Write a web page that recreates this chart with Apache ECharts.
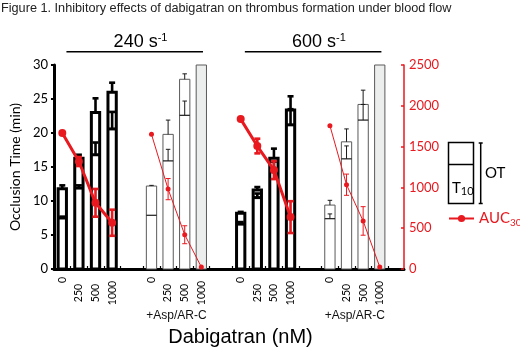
<!DOCTYPE html>
<html><head><meta charset="utf-8">
<script src="https://cdn.jsdelivr.net/npm/echarts@6/dist/echarts.min.js"></script>
<style>html,body{margin:0;padding:0;background:#fff}#c{width:520px;height:352px}</style>
</head><body><div id="c"></div>
<script>
// ---- data ----
const doses = ['0', '250', '500', '1000'];
const shearRates = ['240', '600'];
const treatmentLabels = ['', '+Asp/AR-C', '', '+Asp/AR-C'];

// Occlusion time (OT, min) and T10 (min), means and upper error
const ot240 = [11.8, 16.3, 23.0, 26.0];
const ot240Err = [0.5, 0.5, 2.1, 1.4];
const t10_240 = [7.5, 11.9, 16.8, 20.6];
const t10_240Err = [0.2, 0.4, 1.8, 2.5];

const ot240Asp = [12.2, 19.8, 27.9, 30];
const ot240AspErr = [0.1, 2.1, 0.8, 0];
const t10_240Asp = [7.9, 15.9, 22.6, null];
const t10_240AspErr = [0, 1.7, 2.1, 0];

const ot600 = [8.2, 11.6, 16.3, 23.4];
const ot600Err = [0.2, 0.45, 1.4, 2.0];
const t10_600 = [6.6, 10.5, 14.3, 21.2];
const t10_600Err = [0.3, 0.6, 1.5, 2.3];

const ot600Asp = [9.4, 18.7, 24.2, 30];
const ot600AspErr = [0.7, 1.9, 2.1, 0];
const t10_600Asp = [7.4, 16.2, 21.9, null];
const t10_600AspErr = [0.7, 1.9, 2.3, 0];

// AUC30 (right axis)
const auc240 = [1667, 1317, 811, 567];
const auc240Err = [0, 55, 170, 160];
const auc240Asp = [1650, 979, 420, 25];
const auc240AspErr = [0, 130, 110, 0];
const auc600 = [1837, 1507, 1212, 636];
const auc600Err = [0, 90, 110, 195];
const auc600Asp = [1757, 1033, 589, 25];
const auc600AspErr = [0, 130, 175, 0];

// ---- layout helpers ----
const RED = '#e8191f';
const PERIOD = 5.37;
const X_MAX = 21.07;
const FONT = 'Lato';

const groups = [
  {ot: ot240, otErr: ot240Err, t10: t10_240, t10Err: t10_240Err, auc: auc240, aucErr: auc240Err, thick: true},
  {ot: ot240Asp, otErr: ot240AspErr, t10: t10_240Asp, t10Err: t10_240AspErr, auc: auc240Asp, aucErr: auc240AspErr, thick: false},
  {ot: ot600, otErr: ot600Err, t10: t10_600, t10Err: t10_600Err, auc: auc600, aucErr: auc600Err, thick: true},
  {ot: ot600Asp, otErr: ot600AspErr, t10: t10_600Asp, t10Err: t10_600AspErr, auc: auc600Asp, aucErr: auc600AspErr, thick: false}
];

const bars = [];
const centers = [];
const boundaries = [];
groups.forEach((g, gi) => {
  const start = gi * PERIOD;
  for (let i = 0; i <= 4; i++) boundaries.push(+(start + i).toFixed(3));
  g.ot.forEach((v, i) => {
    const x = +(start + i + 0.5).toFixed(3);
    centers.push(x);
    bars.push({x, ot: v, otErr: g.otErr[i], t10: g.t10[i], t10Err: g.t10Err[i], thick: g.thick,
      full: !g.thick && i === 3, dose: doses[i]});
  });
});

function errBar(children, x, y0, y1, capW, color, lw) {
  children.push({type: 'line', shape: {x1: x, y1: y0, x2: x, y2: y1}, style: {stroke: color, lineWidth: lw}});
  children.push({type: 'line', shape: {x1: x - capW / 2, y1: y1, x2: x + capW / 2, y2: y1}, style: {stroke: color, lineWidth: lw}});
}

function renderBar(params, api) {
  const b = bars[params.dataIndex];
  const halfW = b.thick ? 0.25 : 0.31;
  const bl = api.coord([b.x - halfW, 0]);
  const tr = api.coord([b.x + halfW, b.ot]);
  const cx = api.coord([b.x, 0])[0];
  const stroke = b.thick ? '#000' : '#5a5a5a';
  const inner = b.thick ? '#000' : '#1a1a1a';
  const lw = b.thick ? 3 : 1;
  const elw = b.thick ? 2.6 : 1;
  const cap = b.thick ? 6 : 4.5;
  const children = [];
  children.push({type: 'rect', shape: {x: bl[0], y: tr[1], width: tr[0] - bl[0], height: bl[1] - tr[1]},
    style: {fill: b.full ? '#eceeed' : '#fff', stroke, lineWidth: lw}});
  if (b.t10 != null) {
    const ty = api.coord([b.x, b.t10])[1];
    children.push({type: 'line', shape: {x1: bl[0], y1: ty, x2: tr[0], y2: ty}, style: {stroke: inner, lineWidth: b.thick ? 3 : 1.2}});
    if (b.t10Err > 0) errBar(children, cx, ty, api.coord([b.x, b.t10 + b.t10Err])[1], cap, inner, elw);
  }
  if (b.otErr > 0) errBar(children, cx, tr[1], api.coord([b.x, b.ot + b.otErr])[1], cap, inner, elw);
  return {type: 'group', children};
}

const aucPoints = [];
groups.forEach((g, gi) => g.auc.forEach((v, i) => {
  aucPoints.push({x: centers[gi * 4 + i], v, e: g.aucErr[i], thick: g.thick});
}));
const aucErrPoints = aucPoints.filter(p => p.e > 0);

function renderAucErr(params, api) {
  const p = aucErrPoints[params.dataIndex];
  const top = api.coord([p.x, p.v + p.e]);
  const bot = api.coord([p.x, p.v - p.e]);
  const lw = p.thick ? 2.6 : 1;
  const cap = p.thick ? 6 : 5;
  return {type: 'group', children: [
    {type: 'line', shape: {x1: top[0], y1: top[1], x2: bot[0], y2: bot[1]}, style: {stroke: RED, lineWidth: lw}},
    {type: 'line', shape: {x1: top[0] - cap / 2, y1: top[1], x2: top[0] + cap / 2, y2: top[1]}, style: {stroke: RED, lineWidth: lw}},
    {type: 'line', shape: {x1: bot[0] - cap / 2, y1: bot[1], x2: bot[0] + cap / 2, y2: bot[1]}, style: {stroke: RED, lineWidth: lw}}
  ]};
}

// shear-rate annotations above pairs of groups
const shearAnnots = shearRates.map((s, k) => {
  const a = 2 * k * PERIOD + 0.75;
  const b = (2 * k + 1) * PERIOD + 4 - 0.4;
  return {a, b, t: (a + b) / 2 + 0.35, label: s};
});
function renderShear(params, api) {
  const s = shearAnnots[params.dataIndex];
  const p1 = api.coord([s.a, 30]);
  const p2 = api.coord([s.b, 30]);
  const pt = api.coord([s.t, 30]);
  return {type: 'group', children: [
    {type: 'line', shape: {x1: p1[0], y1: p1[1] - 13.3, x2: p2[0], y2: p2[1] - 13.3}, style: {stroke: '#000', lineWidth: 1.6}},
    {type: 'text', x: pt[0], y: pt[1] - 23, style: {
      text: '{b|' + s.label + ' s}{sup|-1}', align: 'center', verticalAlign: 'middle',
      rich: {
        b: {fontFamily: 'Liberation Sans', fontSize: 18, lineHeight: 20, fill: '#000', verticalAlign: 'middle'},
        sup: {fontFamily: 'Liberation Sans', fontSize: 11, lineHeight: 20, fill: '#000', verticalAlign: 'top'}
      }}}
  ]};
}

const treatGroups = treatmentLabels.map((t, gi) => ({x: gi * PERIOD + 2, label: t})).filter(d => d.label);
function renderTreat(params, api) {
  const d = treatGroups[params.dataIndex];
  const p = api.coord([d.x, 0]);
  return {type: 'text', x: p[0], y: p[1] + 47, style: {text: d.label, align: 'center', verticalAlign: 'middle',
    fontFamily: 'Liberation Sans', fontSize: 12, fill: '#111'}};
}

const chart = echarts.init(document.getElementById('c'), null, {renderer: 'canvas'});
const series = [
  {type: 'custom', name: 'OT', renderItem: renderBar, data: bars.map(b => [b.x, b.ot]), z: 2, silent: true},
  {type: 'custom', name: 'shear', renderItem: renderShear, data: shearAnnots.map(s => [s.t, 30]), clip: false, z: 2, silent: true},
  {type: 'custom', name: 'treat', renderItem: renderTreat, data: treatGroups.map(d => [d.x, 0]), clip: false, z: 2, silent: true}
];
groups.forEach((g, gi) => {
  series.push({
    type: 'line', name: 'AUC30', yAxisIndex: 1,
    data: g.auc.map((v, i) => [centers[gi * 4 + i], v]),
    symbol: 'circle', symbolSize: g.thick ? 8 : 5,
    lineStyle: {color: RED, width: g.thick ? 3 : 1},
    itemStyle: {color: RED}, z: 5, silent: true
  });
});
series.push({type: 'custom', name: 'aucErr', yAxisIndex: 1, renderItem: renderAucErr,
  data: aucErrPoints.map(p => [p.x, p.v]), z: 6, silent: true});

chart.setOption({
  animation: false,
  title: {text: 'Figure 1. Inhibitory effects of dabigatran on thrombus formation under blood flow',
    left: 1, top: 2, padding: 0,
    textStyle: {fontFamily: 'Liberation Sans', fontSize: 12.7, fontWeight: 'normal', color: '#222'}},
  legend: {data: ['AUC30'], left: 448, top: 211, itemWidth: 25, itemHeight: 9, padding: 0, itemGap: 4,
    selectedMode: false,
    formatter: () => '{a|AUC}{s|30}',
    textStyle: {rich: {
      a: {fontFamily: FONT, fontSize: 15, color: RED, lineHeight: 18, verticalAlign: 'middle'},
      s: {fontFamily: FONT, fontSize: 10, color: RED, lineHeight: 18, verticalAlign: 'bottom'}
    }}},
  grid: {left: 50, right: 116, top: 65, bottom: 80, containLabel: false},
  xAxis: {
    type: 'value', min: 0, max: X_MAX,
    name: 'Dabigatran (nM)', nameLocation: 'middle', nameGap: 58,
    nameTextStyle: {fontFamily: 'Liberation Sans', fontSize: 20, color: '#000', padding: [0, 0, 0, 23]},
    axisLine: {show: true, lineStyle: {color: '#000', width: 3}},
    axisTick: {show: true, inside: true, length: 3, customValues: boundaries, lineStyle: {color: '#000', width: 1.2}},
    axisLabel: {show: true, customValues: centers, rotate: 90, align: 'center', verticalAlign: 'middle', margin: 24,
      formatter: (val) => {
        const idx = centers.findIndex(c => Math.abs(c - val) < 0.01);
        const d = idx >= 0 ? bars[idx].dose : '';
        return d === '0' ? '{z|0}' : '{n|' + d + '}';
      },
      rich: {
        z: {fontFamily: FONT, fontSize: 10.5, color: '#000', padding: [0, 0, 0, 26]},
        n: {fontFamily: FONT, fontSize: 10.5, color: '#000'}
      }},
    splitLine: {show: false}
  },
  yAxis: [
    {type: 'value', min: 0, max: 30, interval: 5, position: 'left',
      name: 'Occlusion Time (min)', nameLocation: 'middle', nameGap: 28,
      nameTextStyle: {fontFamily: FONT, fontSize: 14, color: '#000'},
      axisLine: {show: true, lineStyle: {color: '#000', width: 3}},
      axisTick: {show: true, length: 3, lineStyle: {color: '#000', width: 2}},
      axisLabel: {fontFamily: FONT, fontSize: 13, color: '#000', margin: 6},
      splitLine: {show: false}},
    {type: 'value', min: 0, max: 2500, interval: 500, position: 'right',
      axisLine: {show: true, lineStyle: {color: RED, width: 1.5}},
      axisTick: {show: true, inside: true, length: 3, lineStyle: {color: RED, width: 1.5}},
      axisLabel: {fontFamily: FONT, fontSize: 13, color: RED, margin: 5, formatter: (v) => String(v)},
      splitLine: {show: false}}
  ],
  graphic: [
    {type: 'rect', shape: {x: 448.5, y: 142.5, width: 25, height: 61}, style: {fill: '#fff', stroke: '#000', lineWidth: 1.5}},
    {type: 'line', shape: {x1: 448.5, y1: 164.5, x2: 473.5, y2: 164.5}, style: {stroke: '#000', lineWidth: 1.5}},
    {type: 'text', x: 452, y: 188, style: {text: '{t|T}{s|10}', verticalAlign: 'middle',
      rich: {t: {fontFamily: FONT, fontSize: 15, fill: '#000', lineHeight: 18, verticalAlign: 'middle'},
             s: {fontFamily: FONT, fontSize: 11, fill: '#000', lineHeight: 18, verticalAlign: 'bottom'}}}},
    {type: 'line', shape: {x1: 480.7, y1: 143, x2: 480.7, y2: 203.5}, style: {stroke: '#000', lineWidth: 1.5}},
    {type: 'line', shape: {x1: 478.7, y1: 143, x2: 482.7, y2: 143}, style: {stroke: '#000', lineWidth: 1.5}},
    {type: 'line', shape: {x1: 478.7, y1: 203.5, x2: 482.7, y2: 203.5}, style: {stroke: '#000', lineWidth: 1.5}},
    {type: 'text', x: 485, y: 173, style: {text: 'OT', verticalAlign: 'middle', fontFamily: FONT, fontSize: 15, fill: '#000'}}
  ],
  series
});
</script></body></html>
